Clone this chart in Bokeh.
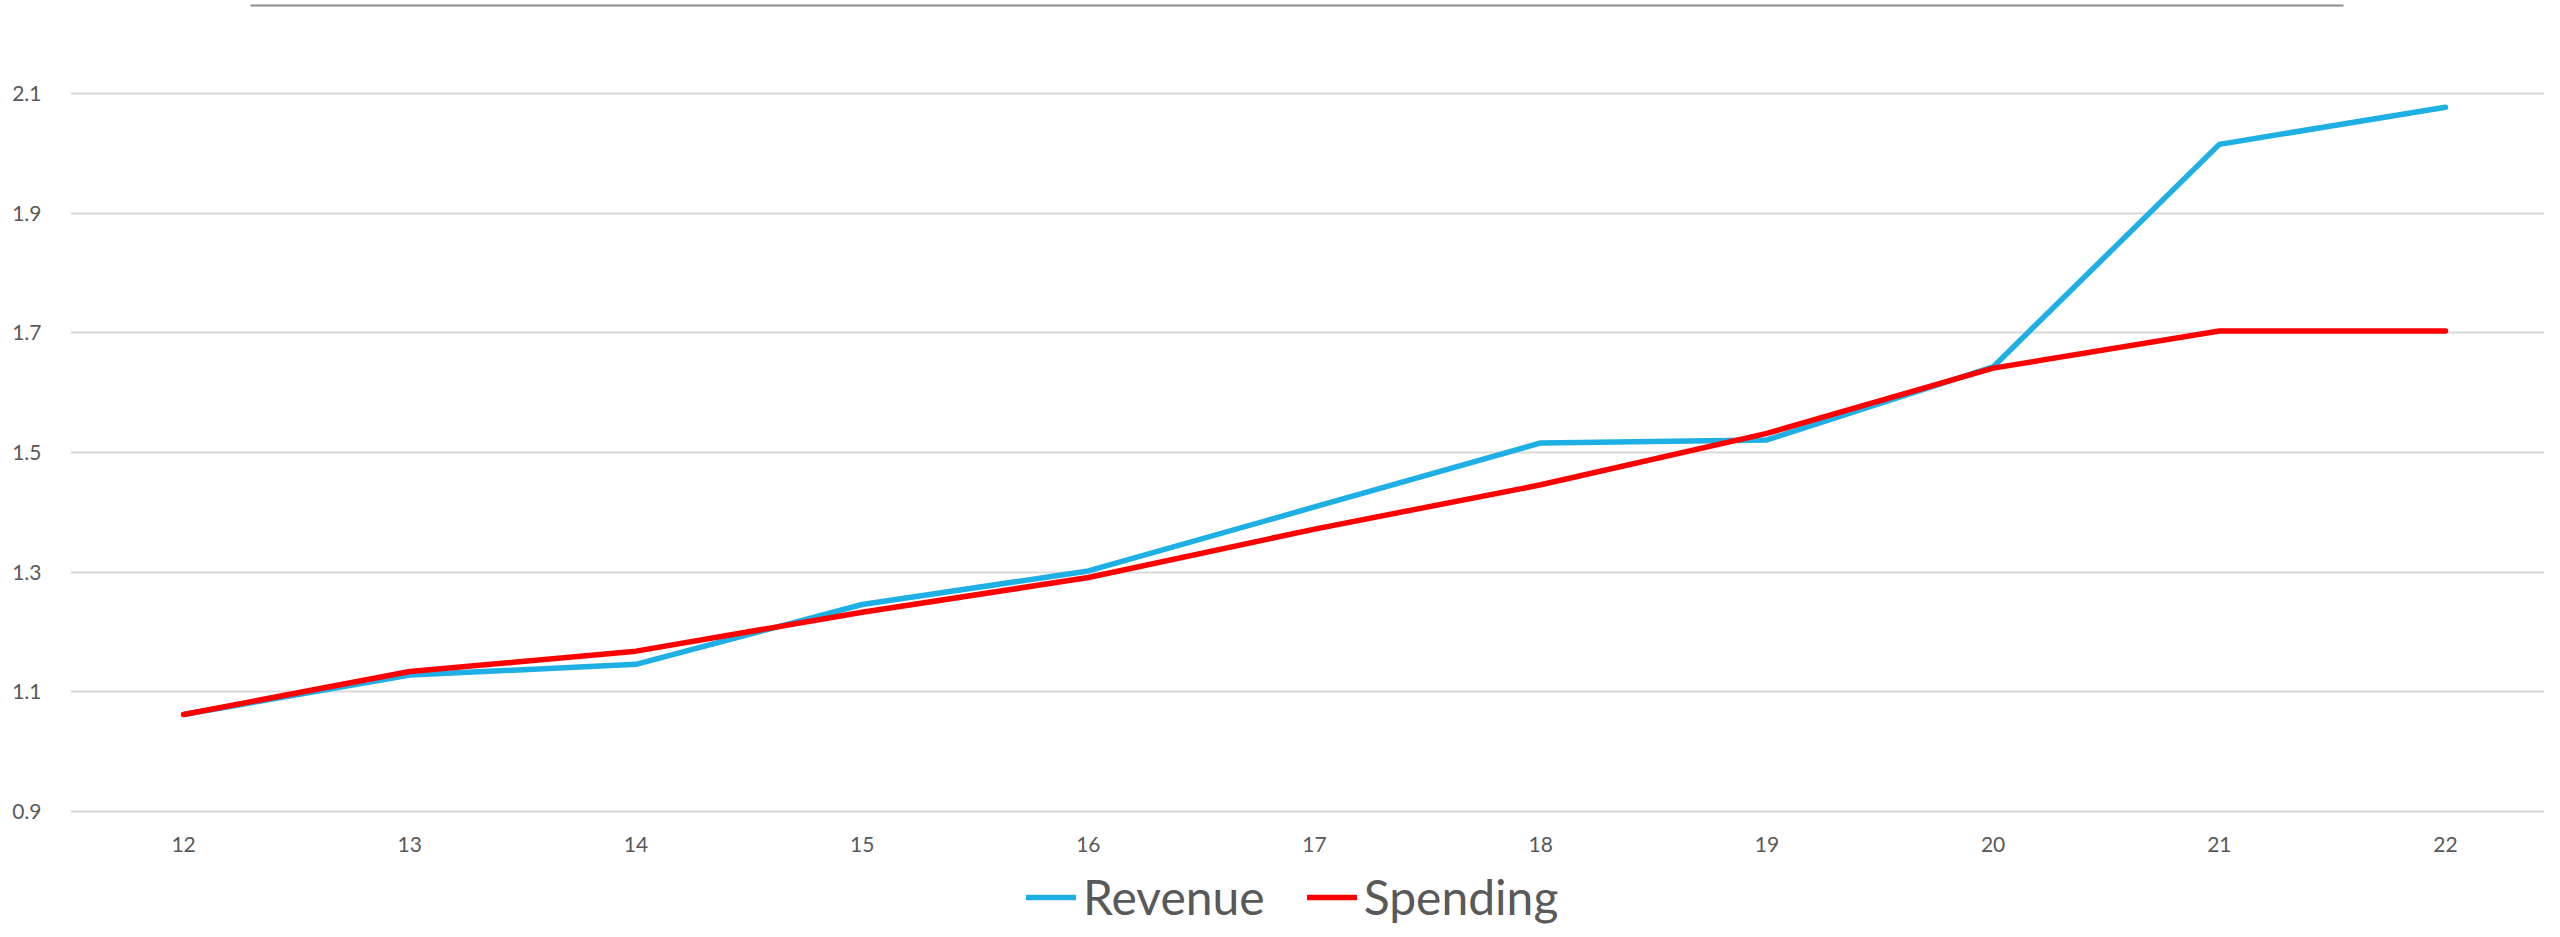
from bokeh.plotting import figure
from bokeh.models import FixedTicker, Legend, LegendItem, Range1d, PrintfTickFormatter, BoxAnnotation
from bokeh.embed import file_html
from bokeh.resources import INLINE

# ---- data ----
years = [12, 13, 14, 15, 16, 17, 18, 19, 20, 21, 22]
revenue = [1.062, 1.128, 1.146, 1.246, 1.302, 1.409, 1.516, 1.521, 1.643, 2.015, 2.077]
spending = [1.062, 1.134, 1.168, 1.233, 1.291, 1.372, 1.446, 1.532, 1.641, 1.703, 1.703]
y_ticks = [0.9, 1.1, 1.3, 1.5, 1.7, 1.9, 2.1]
series_names = ["Revenue", "Spending"]

BLUE = "#1EAFE5"
RED = "#FF0000"
TXT = "#595959"
FONT = "Lato"

W, H = 2544, 929
p = figure(width=W, height=H,
           x_range=Range1d(11.5, 22.4377), y_range=Range1d(0.7028, 2.2554),
           output_backend="svg", toolbar_location=None,
           min_border_left=70, min_border_right=0, min_border_top=0, min_border_bottom=0)
p.outline_line_color = None
p.background_fill_color = "white"
p.border_fill_color = "white"

p.xgrid.visible = False
p.ygrid.grid_line_color = "#D9D9D9"
p.ygrid.grid_line_width = 2

# y axis
p.yaxis.ticker = FixedTicker(ticks=y_ticks)
p.yaxis.formatter = PrintfTickFormatter(format="%.1f")
p.yaxis.axis_line_color = None
p.yaxis.major_tick_line_color = None
p.yaxis.minor_tick_line_color = None
p.yaxis.major_label_standoff = 23
p.yaxis.major_label_text_font_size = "21px"
p.yaxis.major_label_text_color = TXT
p.yaxis.major_label_text_font = FONT

# x axis
p.xaxis.ticker = FixedTicker(ticks=years)
p.xaxis.fixed_location = y_ticks[0]
p.xaxis.axis_line_color = None
p.xaxis.major_tick_line_color = None
p.xaxis.minor_tick_line_color = None
p.xaxis.major_label_standoff = 19
p.xaxis.major_label_text_font_size = "21px"
p.xaxis.major_label_text_color = TXT
p.xaxis.major_label_text_font = FONT

r1 = p.line(years, revenue, line_width=5.5, line_color=BLUE, line_cap="round", line_join="round")
r2 = p.line(years, spending, line_width=5.5, line_color=RED, line_cap="round", line_join="round")

# thin grey rule across the top of the chart area (decoration, screen units from frame bottom-left)
top_rule = BoxAnnotation(left=180, right=2273, top=H - 4, bottom=H - 6,
                         left_units="screen", right_units="screen",
                         top_units="screen", bottom_units="screen",
                         fill_color="#8C8C8C", fill_alpha=1.0, line_color=None)
p.add_layout(top_rule)

legend = Legend(items=[LegendItem(label=series_names[0], renderers=[r1]),
                       LegendItem(label=series_names[1], renderers=[r2])],
                orientation="horizontal", location=(956, 4),
                border_line_color=None, background_fill_alpha=0,
                padding=0, margin=0, spacing=42, glyph_width=50, glyph_height=20,
                label_standoff=7, label_text_font_size="48px",
                label_text_color=TXT, label_text_font=FONT)
p.add_layout(legend)

open("out.html", "w").write(file_html(p, INLINE))
